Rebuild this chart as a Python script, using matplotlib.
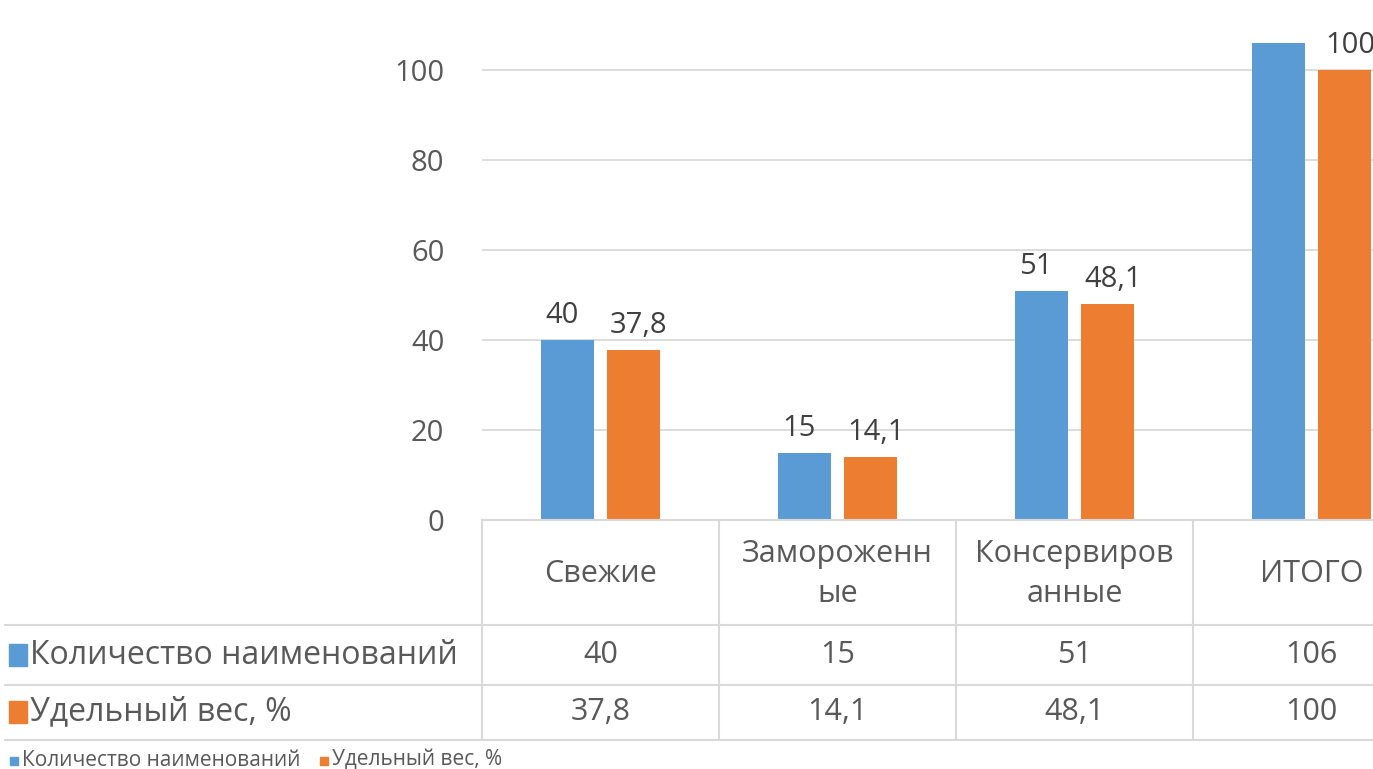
import matplotlib
matplotlib.use("Agg")
import matplotlib.pyplot as plt
from matplotlib.lines import Line2D
from matplotlib.patches import Rectangle
import matplotlib.transforms as mtransforms

plt.rcParams['font.family'] = ['Open Sans', 'DejaVu Sans']

# Daten
kategorien = ['Свежие', 'Замороженн\nые', 'Консервиров\nанные', 'ИТОГО']
serien = ['Количество наименований', 'Удельный вес, %']
kolichestvo = [40, 15, 51, 106]
udelny_ves = [37.8, 14.1, 48.1, 100]
# bei ИТОГО fehlt die blaue Beschriftung im Original
zeige_label_blau = [True, True, True, False]
zeige_label_orange = [True, True, True, True]

blau = '#5B9BD5'
orange = '#ED7D31'
grau_text = '#595959'
dunkel_text = '#404040'
linie = '#D9D9D9'

W, H = 1373, 769
fig = plt.figure(figsize=(W / 100, H / 100), dpi=100)

def fx(x):
    return x / W

def fy(y):
    return 1 - y / H

# Achse: links 482px, Spaltenbreite 237px, 0 bei y=520, 4.5 px pro Einheit
ymax = 115
spalte = 237
ax = fig.add_axes([fx(482), fy(520), 4 * spalte / W, ymax * 4.5 / H])

x = list(range(len(kategorien)))
bw = 0.224
off = 0.139
b1 = ax.bar([i - off for i in x], kolichestvo, bw, color=blau, zorder=3)
b2 = ax.bar([i + off for i in x], udelny_ves, bw, color=orange, zorder=3)

def fmt(v):
    s = f'{v:g}'
    return s.replace('.', ',')

for rect, v, show in zip(b1, kolichestvo, zeige_label_blau):
    if show:
        ax.annotate(fmt(v), (rect.get_x() + rect.get_width() / 2, v),
                    xytext=(-4, 7), textcoords='offset points',
                    ha='center', va='bottom', fontsize=21, color=dunkel_text)
for rect, v, show in zip(b2, udelny_ves, zeige_label_orange):
    if show:
        ax.annotate(fmt(v), (rect.get_x() + rect.get_width() / 2, v),
                    xytext=(4, 7), textcoords='offset points',
                    ha='center', va='bottom', fontsize=21, color=dunkel_text)

ax.set_xlim(-0.5, 3.5)
ax.set_ylim(0, ymax)
ax.set_yticks([0, 20, 40, 60, 80, 100])
ax.tick_params(axis='y', length=0, pad=27, labelsize=21, labelcolor=grau_text)
ax.set_xticks([])
ax.yaxis.grid(True, color=linie, linewidth=1.3, zorder=0)
for s in ax.spines.values():
    s.set_visible(False)

# Datentabelle unter dem Diagramm
def hlinie(y, x0=5, x1=W):
    fig.add_artist(Line2D([fx(x0), fx(x1)], [fy(y), fy(y)], color=linie, linewidth=1.5))

def vlinie(xp, y0=520, y1=740):
    fig.add_artist(Line2D([fx(xp), fx(xp)], [fy(y0), fy(y1)], color=linie, linewidth=1.5))

hlinie(520, 482)
hlinie(625)
hlinie(685)
hlinie(740)
for i in range(4):
    vlinie(482 + i * spalte)

trans = mtransforms.blended_transform_factory(ax.transData, fig.transFigure)
for i, kat in enumerate(kategorien):
    fig.text(i, fy(574), kat, transform=trans, ha='center', va='center',
             fontsize=22, color=grau_text, linespacing=1.45)
    fig.text(i, fy(655), fmt(kolichestvo[i]), transform=trans, ha='center', va='center',
             fontsize=22, color=grau_text)
    fig.text(i, fy(712), fmt(udelny_ves[i]), transform=trans, ha='center', va='center',
             fontsize=22, color=grau_text)

# Zeilenbeschriftungen mit Farbkästchen
for yy, name, farbe in [(655, serien[0], blau), (712, serien[1], orange)]:
    fig.add_artist(Rectangle((fx(9), fy(yy + 11)), fx(18), 22 / H, color=farbe,
                             transform=fig.transFigure))
    fig.text(fx(30), fy(yy), name, ha='left', va='center', fontsize=23, color=grau_text)

# kleine Legende unten
legende_x = [10, 320]
for lx, name, farbe in zip(legende_x, serien, [blau, orange]):
    fig.add_artist(Rectangle((fx(lx), fy(765)), fx(8), 8 / H, color=farbe,
                             transform=fig.transFigure))
    fig.text(fx(lx + 12), fy(760), name, ha='left', va='center', fontsize=15,
             color=grau_text)

fig.savefig('out.png', dpi=100)
